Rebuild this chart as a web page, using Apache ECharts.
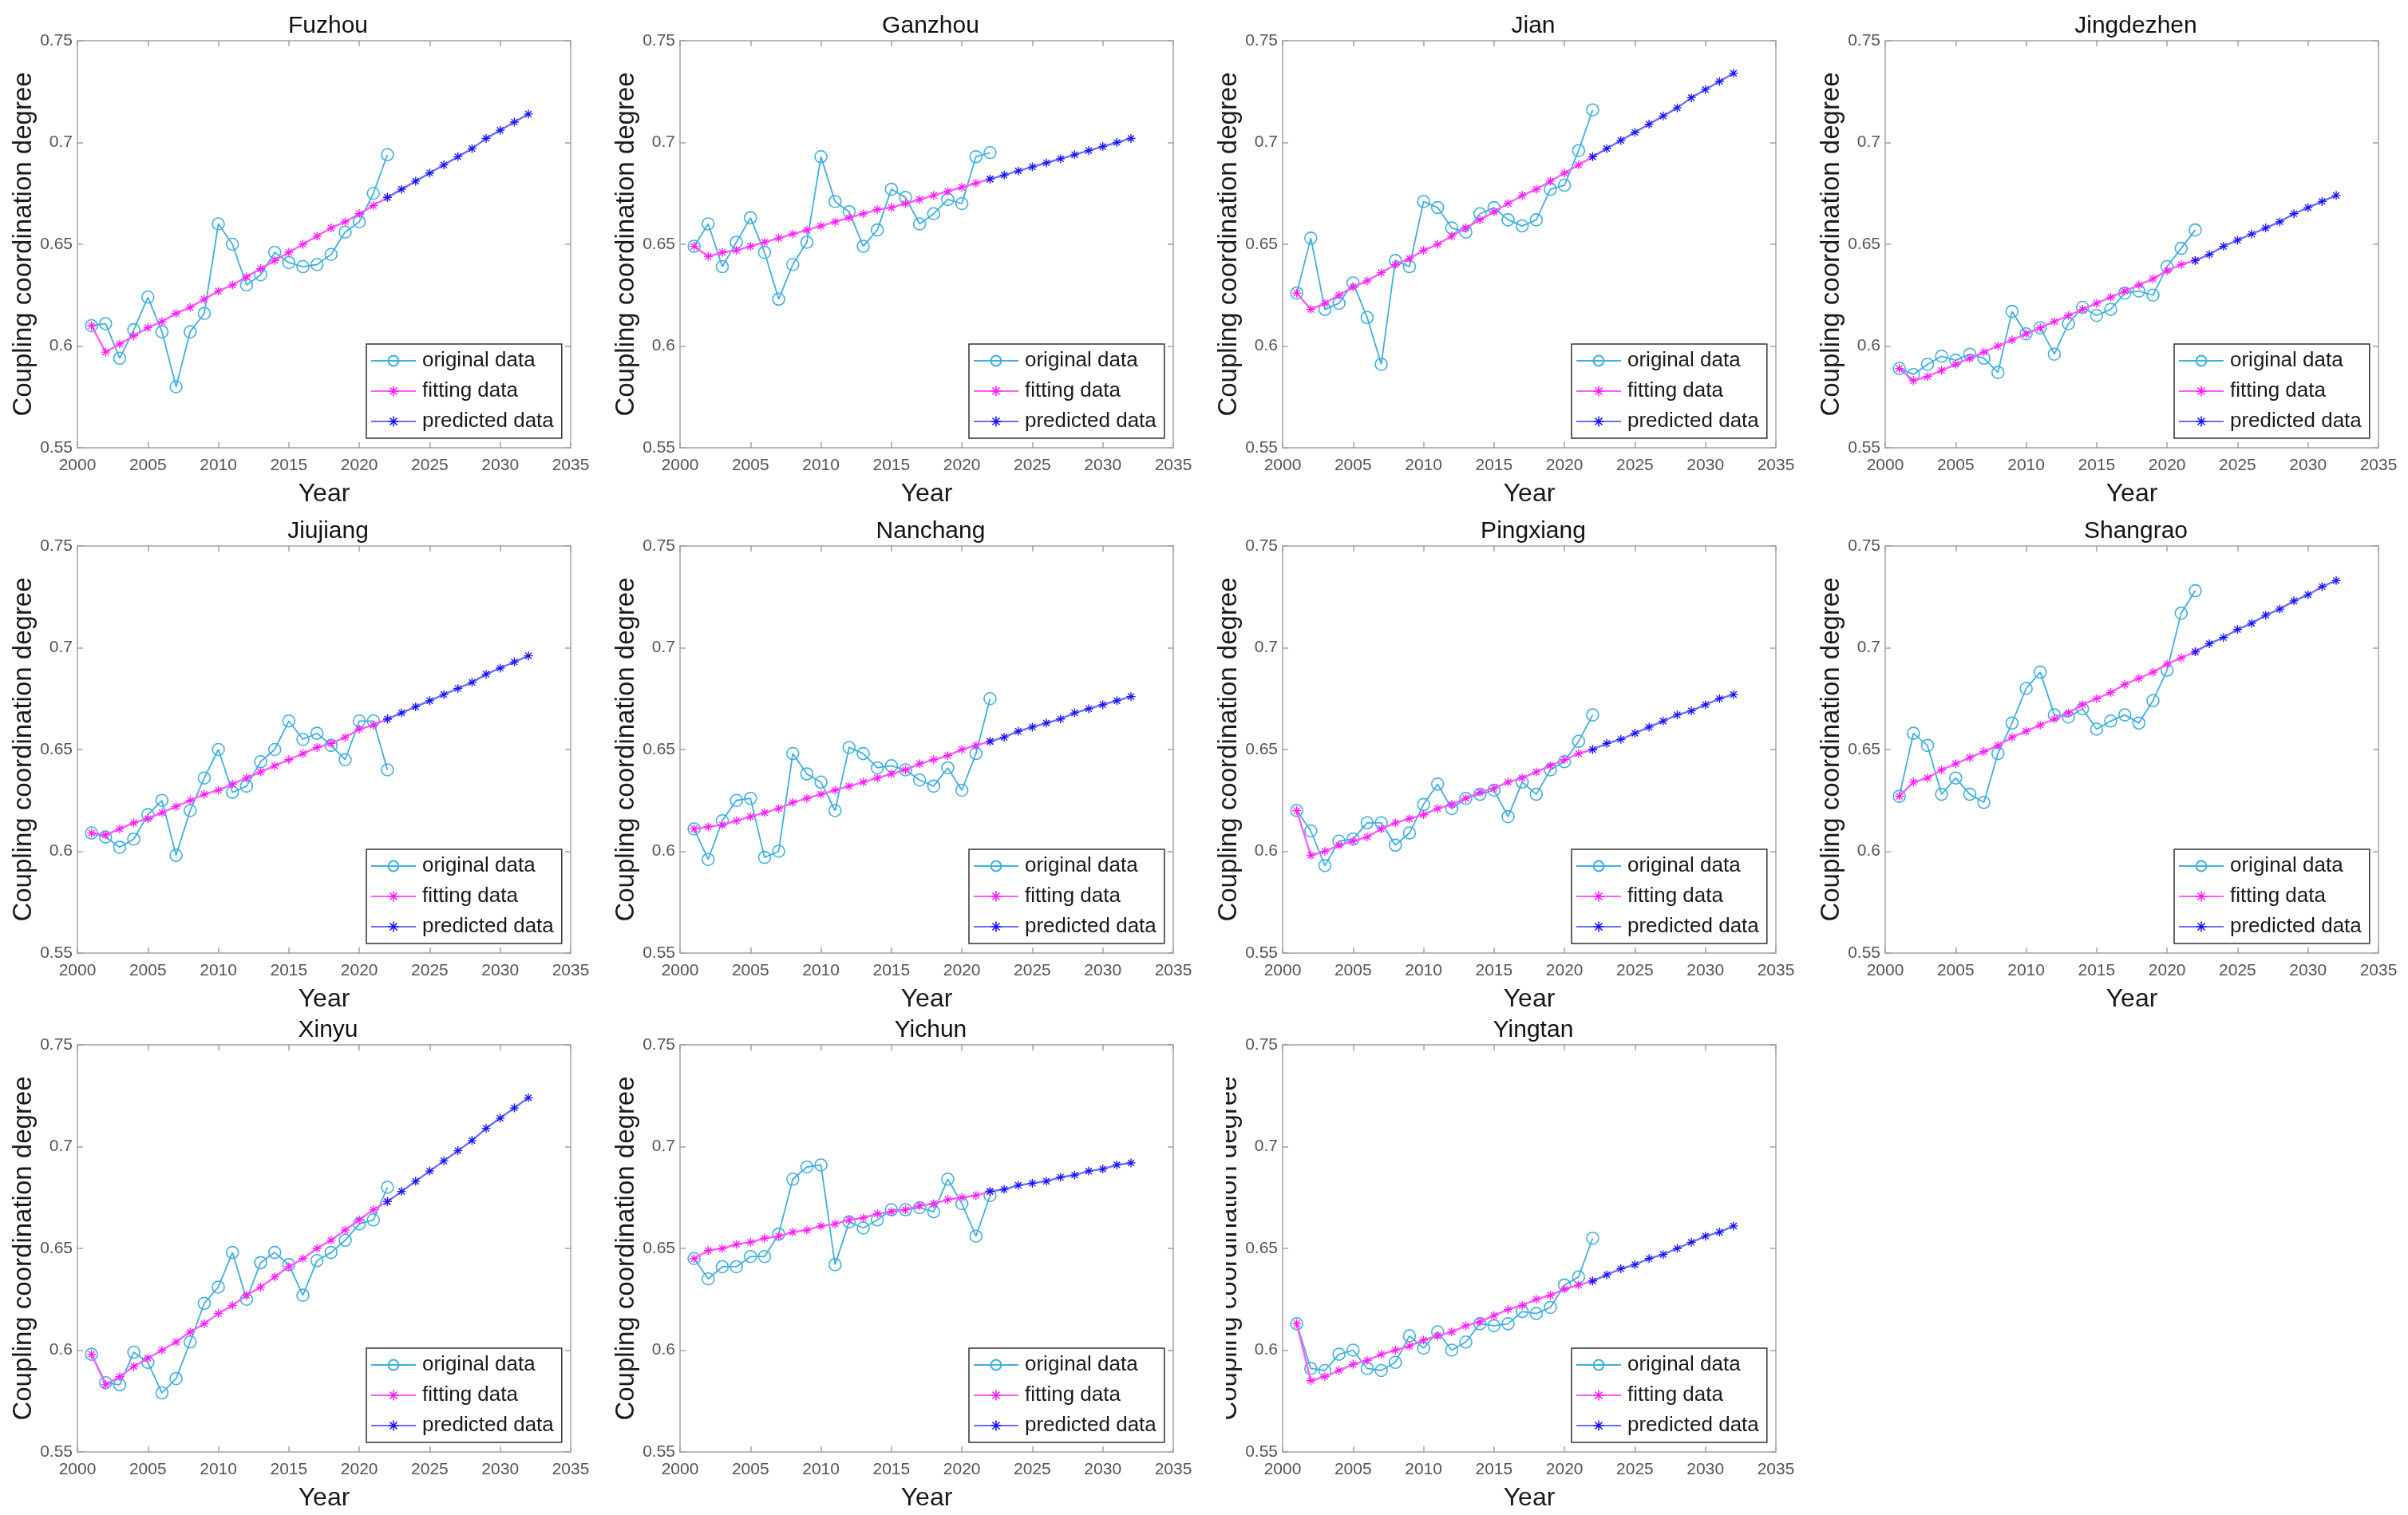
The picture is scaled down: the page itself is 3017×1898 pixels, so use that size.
<!DOCTYPE html>
<html><head><meta charset="utf-8">
<script src="https://cdn.jsdelivr.net/npm/echarts@6/dist/echarts.min.js"></script>
<style>html,body{margin:0;padding:0;background:#fff}#c{width:3017px;height:1898px}</style>
</head><body><div id="c"></div>
<script>
const cities = ['Fuzhou','Ganzhou','Jian','Jingdezhen','Jiujiang','Nanchang','Pingxiang','Shangrao','Xinyu','Yichun','Yingtan'];
const originalYears = [2001,2002,2003,2004,2005,2006,2007,2008,2009,2010,2011,2012,2013,2014,2015,2016,2017,2018,2019,2020,2021,2022];
const fittingYears  = [2001,2002,2003,2004,2005,2006,2007,2008,2009,2010,2011,2012,2013,2014,2015,2016,2017,2018,2019,2020,2021,2022];
const predictedYears = [2022,2023,2024,2025,2026,2027,2028,2029,2030,2031,2032];
const xTicks = [2000,2005,2010,2015,2020,2025,2030,2035];
const yTicks = [0.55,0.6,0.65,0.7,0.75];

const fuzhouOriginal = [0.610,0.611,0.594,0.608,0.624,0.607,0.580,0.607,0.616,0.660,0.650,0.630,0.635,0.646,0.641,0.639,0.640,0.645,0.656,0.661,0.675,0.694];
const fuzhouFitting = [0.610,0.597,0.601,0.605,0.609,0.612,0.616,0.619,0.623,0.627,0.630,0.634,0.638,0.642,0.646,0.650,0.654,0.658,0.661,0.665,0.669,0.673];
const fuzhouPredicted = [0.673,0.677,0.681,0.685,0.689,0.693,0.697,0.702,0.706,0.710,0.714];

const ganzhouOriginal = [0.649,0.660,0.639,0.651,0.663,0.646,0.623,0.640,0.651,0.693,0.671,0.666,0.649,0.657,0.677,0.673,0.660,0.665,0.672,0.670,0.693,0.695];
const ganzhouFitting = [0.649,0.644,0.646,0.647,0.649,0.651,0.653,0.655,0.657,0.659,0.661,0.663,0.665,0.667,0.668,0.670,0.672,0.674,0.676,0.678,0.680,0.682];
const ganzhouPredicted = [0.682,0.684,0.686,0.688,0.690,0.692,0.694,0.696,0.698,0.700,0.702];

const jianOriginal = [0.626,0.653,0.618,0.621,0.631,0.614,0.591,0.642,0.639,0.671,0.668,0.658,0.656,0.665,0.668,0.662,0.659,0.662,0.677,0.679,0.696,0.716];
const jianFitting = [0.626,0.618,0.621,0.625,0.629,0.632,0.636,0.640,0.643,0.647,0.650,0.654,0.658,0.662,0.666,0.670,0.674,0.677,0.681,0.685,0.689,0.693];
const jianPredicted = [0.693,0.697,0.701,0.705,0.709,0.713,0.717,0.722,0.726,0.730,0.734];

const jingdezhenOriginal = [0.589,0.586,0.591,0.595,0.593,0.596,0.594,0.587,0.617,0.606,0.609,0.596,0.611,0.619,0.615,0.618,0.626,0.627,0.625,0.639,0.648,0.657];
const jingdezhenFitting = [0.589,0.583,0.585,0.588,0.591,0.594,0.597,0.600,0.603,0.606,0.609,0.612,0.615,0.618,0.621,0.624,0.627,0.630,0.633,0.637,0.640,0.642];
const jingdezhenPredicted = [0.642,0.645,0.649,0.652,0.655,0.658,0.661,0.665,0.668,0.671,0.674];

const jiujiangOriginal = [0.609,0.607,0.602,0.606,0.618,0.625,0.598,0.620,0.636,0.650,0.629,0.632,0.644,0.650,0.664,0.655,0.658,0.652,0.645,0.664,0.664,0.640];
const jiujiangFitting = [0.609,0.608,0.611,0.614,0.616,0.619,0.622,0.625,0.628,0.630,0.633,0.636,0.639,0.642,0.645,0.648,0.651,0.653,0.656,0.660,0.662,0.665];
const jiujiangPredicted = [0.665,0.668,0.671,0.674,0.677,0.680,0.683,0.687,0.690,0.693,0.696];

const nanchangOriginal = [0.611,0.596,0.615,0.625,0.626,0.597,0.600,0.648,0.638,0.634,0.620,0.651,0.648,0.641,0.642,0.640,0.635,0.632,0.641,0.630,0.648,0.675];
const nanchangFitting = [0.611,0.612,0.613,0.615,0.617,0.619,0.621,0.624,0.626,0.628,0.630,0.632,0.634,0.636,0.638,0.640,0.643,0.645,0.647,0.650,0.652,0.654];
const nanchangPredicted = [0.654,0.656,0.659,0.661,0.663,0.665,0.668,0.670,0.672,0.674,0.676];

const pingxiangOriginal = [0.620,0.610,0.593,0.605,0.606,0.614,0.614,0.603,0.609,0.623,0.633,0.621,0.626,0.628,0.630,0.617,0.634,0.628,0.640,0.644,0.654,0.667];
const pingxiangFitting = [0.620,0.598,0.600,0.603,0.605,0.607,0.611,0.614,0.616,0.618,0.621,0.623,0.626,0.629,0.631,0.634,0.636,0.639,0.642,0.645,0.648,0.650];
const pingxiangPredicted = [0.650,0.653,0.655,0.658,0.661,0.664,0.667,0.669,0.672,0.675,0.677];

const shangraoOriginal = [0.627,0.658,0.652,0.628,0.636,0.628,0.624,0.648,0.663,0.680,0.688,0.667,0.666,0.670,0.660,0.664,0.667,0.663,0.674,0.689,0.717,0.728];
const shangraoFitting = [0.627,0.634,0.636,0.640,0.643,0.646,0.649,0.652,0.656,0.659,0.662,0.665,0.668,0.672,0.675,0.678,0.682,0.685,0.688,0.692,0.695,0.698];
const shangraoPredicted = [0.698,0.702,0.705,0.709,0.712,0.716,0.719,0.723,0.726,0.730,0.733];

const xinyuOriginal = [0.598,0.584,0.583,0.599,0.594,0.579,0.586,0.604,0.623,0.631,0.648,0.625,0.643,0.648,0.642,0.627,0.644,0.648,0.654,0.662,0.664,0.680];
const xinyuFitting = [0.598,0.583,0.587,0.592,0.596,0.600,0.604,0.609,0.613,0.618,0.622,0.627,0.631,0.636,0.641,0.645,0.650,0.654,0.659,0.664,0.669,0.673];
const xinyuPredicted = [0.673,0.678,0.683,0.688,0.693,0.698,0.703,0.709,0.714,0.719,0.724];

const yichunOriginal = [0.645,0.635,0.641,0.641,0.646,0.646,0.657,0.684,0.690,0.691,0.642,0.663,0.660,0.664,0.669,0.669,0.670,0.668,0.684,0.672,0.656,0.676];
const yichunFitting = [0.645,0.649,0.650,0.652,0.653,0.655,0.656,0.658,0.659,0.661,0.662,0.664,0.665,0.667,0.668,0.669,0.671,0.672,0.674,0.675,0.676,0.678];
const yichunPredicted = [0.678,0.679,0.681,0.682,0.683,0.685,0.686,0.688,0.689,0.691,0.692];

const yingtanOriginal = [0.613,0.591,0.590,0.598,0.600,0.591,0.590,0.594,0.607,0.601,0.609,0.600,0.604,0.613,0.612,0.613,0.619,0.618,0.621,0.632,0.636,0.655];
const yingtanFitting = [0.613,0.585,0.587,0.590,0.593,0.595,0.598,0.600,0.602,0.605,0.607,0.609,0.612,0.614,0.617,0.620,0.622,0.625,0.627,0.630,0.632,0.634];
const yingtanPredicted = [0.634,0.637,0.640,0.642,0.645,0.647,0.650,0.653,0.656,0.658,0.661];

const originalSets = [fuzhouOriginal,ganzhouOriginal,jianOriginal,jingdezhenOriginal,jiujiangOriginal,nanchangOriginal,pingxiangOriginal,shangraoOriginal,xinyuOriginal,yichunOriginal,yingtanOriginal];
const fittingSets = [fuzhouFitting,ganzhouFitting,jianFitting,jingdezhenFitting,jiujiangFitting,nanchangFitting,pingxiangFitting,shangraoFitting,xinyuFitting,yichunFitting,yingtanFitting];
const predictedSets = [fuzhouPredicted,ganzhouPredicted,jianPredicted,jingdezhenPredicted,jiujiangPredicted,nanchangPredicted,pingxiangPredicted,shangraoPredicted,xinyuPredicted,yichunPredicted,yingtanPredicted];

const seriesNames = ['original data','fitting data','predicted data'];

// ---- layout / style ----
const FONT = '"Liberation Sans", Arial, sans-serif';
const colLeft = [97, 852, 1607, 2362];
const rowTop = [51, 684, 1309];
const GW = 618, GH = 510;
const boxColor = '#a3a3a3';
const tickLabelColor = '#555555';
const starPath = 'path://M-1.2,-10H1.2V10H-1.2Z M-10,-1.2H10V1.2H-10Z M-7.92,-6.22L-6.22,-7.92L7.92,6.22L6.22,7.92Z M6.22,-7.92L7.92,-6.22L-6.22,7.92L-7.92,6.22Z';

const pairs = (xs, ys) => ys.map((v, k) => [xs[k], v]);

const grids = [], xAxes = [], yAxes = [], series = [], titles = [], legends = [];
cities.forEach((name, i) => {
  const c = i % 4, r = Math.floor(i / 4);
  const L = colLeft[c], T = rowTop[r];
  grids.push({ left: L, top: T, width: GW, height: GH, containLabel: false });
  const axisLine = { show: true, onZero: false, lineStyle: { color: boxColor, width: 1.5 } };
  const tick = { show: true, inside: true, length: 7, lineStyle: { color: boxColor, width: 1.5 } };
  xAxes.push({
    type: 'value', gridIndex: i, position: 'bottom',
    min: xTicks[0], max: xTicks[xTicks.length - 1], interval: xTicks[1] - xTicks[0],
    axisLine, axisTick: tick, splitLine: { show: false },
    axisLabel: { color: tickLabelColor, fontSize: 21, fontFamily: FONT, margin: 12,
                 formatter: v => String(v) },
    name: 'Year', nameLocation: 'middle', nameGap: 42,
    nameTextStyle: { fontSize: 32, color: '#1a1a1a', fontFamily: FONT }
  });
  xAxes.push({
    type: 'value', gridIndex: i, position: 'top',
    min: xTicks[0], max: xTicks[xTicks.length - 1], interval: xTicks[1] - xTicks[0],
    axisLine, axisTick: tick, splitLine: { show: false }, axisLabel: { show: false }
  });
  yAxes.push({
    type: 'value', gridIndex: i, position: 'left',
    min: yTicks[0], max: yTicks[yTicks.length - 1], interval: 0.05,
    axisLine, axisTick: tick, splitLine: { show: false },
    axisLabel: { color: tickLabelColor, fontSize: 21, fontFamily: FONT, margin: 6,
                 formatter: v => String(+v.toFixed(2)) },
    name: 'Coupling coordination degree', nameLocation: 'middle', nameGap: 50, nameRotate: 90,
    nameTextStyle: { fontSize: 33, color: '#1a1a1a', fontFamily: FONT }
  });
  yAxes.push({
    type: 'value', gridIndex: i, position: 'right',
    min: yTicks[0], max: yTicks[yTicks.length - 1], interval: 0.05,
    axisLine, axisTick: tick, splitLine: { show: false }, axisLabel: { show: false }
  });
  const xi = 2 * i, yi = 2 * i;
  series.push({
    name: seriesNames[0], type: 'line', xAxisIndex: xi, yAxisIndex: yi,
    data: pairs(originalYears, originalSets[i]),
    symbol: 'circle', symbolSize: 15,
    lineStyle: { color: '#3fb0de', width: 1.8 },
    itemStyle: { color: 'rgba(255,255,255,0)', borderColor: '#3fb0de', borderWidth: 1.6 },
    z: 2
  });
  series.push({
    name: seriesNames[1], type: 'line', xAxisIndex: xi, yAxisIndex: yi,
    data: pairs(fittingYears, fittingSets[i]),
    symbol: starPath, symbolSize: 11,
    lineStyle: { color: '#ff5cff', width: 2.4 },
    itemStyle: { color: '#ff1aff' },
    z: 3
  });
  series.push({
    name: seriesNames[2], type: 'line', xAxisIndex: xi, yAxisIndex: yi,
    data: pairs(predictedYears, predictedSets[i]),
    symbol: starPath, symbolSize: 11,
    lineStyle: { color: '#6f6fff', width: 2.4 },
    itemStyle: { color: '#1414ff' },
    z: 4
  });
  titles.push({
    text: name, left: L + GW / 2, top: T - 38, textAlign: 'center',
    textStyle: { fontSize: 30, fontWeight: 'normal', color: '#111', fontFamily: FONT }
  });
  legends.push({
    data: seriesNames, orient: 'vertical', left: L + 362, top: T + 380,
    selectedMode: false, itemWidth: 56, itemHeight: 16, itemGap: 12,
    padding: [8, 10, 8, 5],
    backgroundColor: '#fff', borderColor: '#333', borderWidth: 1.5,
    textStyle: { fontSize: 26, color: '#1a1a1a', fontFamily: FONT, padding: [0, 0, 0, 3] }
  });
});

const chart = echarts.init(document.getElementById('c'), null, { renderer: 'canvas' });
chart.setOption({
  backgroundColor: '#ffffff',
  animation: false,
  title: titles,
  legend: legends,
  grid: grids,
  xAxis: xAxes,
  yAxis: yAxes,
  series: series,
  graphic: [{
    type: 'rect', shape: { x: 1500, y: 1330, width: 36, height: 480 },
    style: { fill: '#ffffff' }, z: 100
  }]
});
</script></body></html>
